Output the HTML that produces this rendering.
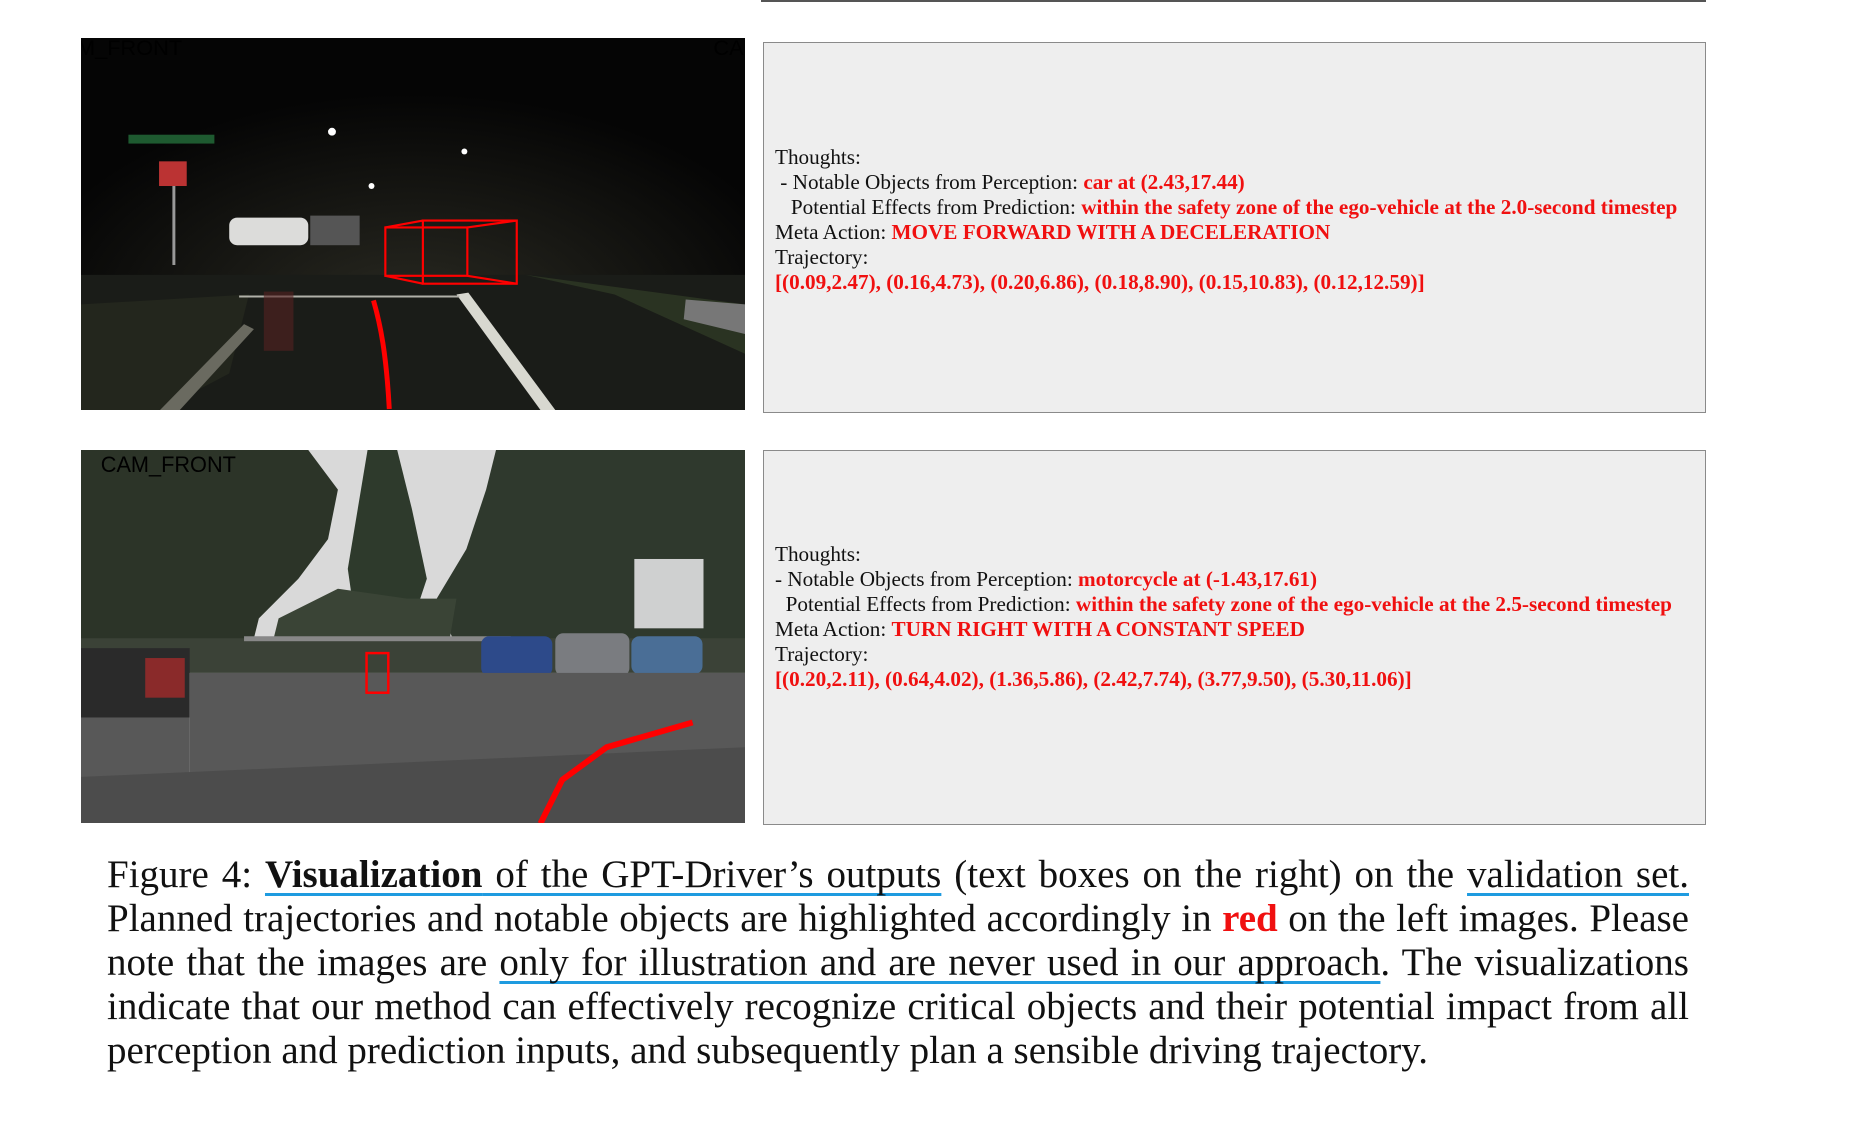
<!DOCTYPE html>
<html><head><meta charset="utf-8"><style>
body{margin:0;width:1861px;height:1123px;background:#fff;position:relative;overflow:hidden;font-family:"Liberation Serif",serif}
.abs{position:absolute}
.box{position:absolute;left:763px;width:943px;background:#eeeeee;border:1.5px solid #8a8a8a;box-sizing:border-box}
.tl{position:absolute;left:11px;font-size:21.2px;line-height:25px;white-space:nowrap;color:#111}
.r{color:#f01010;font-weight:bold}
.cap{position:absolute;left:107px;width:1582px;font-size:39px;line-height:44px;color:#111}
.cap div{text-align:justify;text-align-last:justify;white-space:nowrap;height:44px}
.cap div.last{text-align-last:left}
.u{text-decoration:underline;text-decoration-color:#1e9be0;text-decoration-thickness:3px;text-underline-offset:6px;text-decoration-skip-ink:none}
</style></head><body>
<div class="abs" style="left:761px;top:0;width:945px;height:1.5px;background:#555"></div>

<svg class="abs" style="left:81px;top:38px" width="664" height="372" viewBox="0 0 672 377" preserveAspectRatio="none">
<defs><radialGradient id="g1" cx="0.5" cy="0.75" r="0.6"><stop offset="0" stop-color="#2a2a22"/><stop offset="1" stop-color="#050505"/></radialGradient></defs>
<rect width="672" height="377" fill="url(#g1)"/>
<polygon points="0,240 672,240 672,377 0,377" fill="#1a1c18"/>
<polygon points="0,270 170,260 150,340 80,377 0,377" fill="#23261d"/>
<polygon points="450,240 672,270 672,320 540,260" fill="#2a3322"/>
<polygon points="80,377 165,290 175,295 100,377" fill="#6a6a60"/>
<polygon points="380,260 392,258 480,377 465,377" fill="#d8d8d0"/>
<line x1="160" y1="262" x2="383" y2="262" stroke="#b0b0a8" stroke-width="2"/>
<rect x="150" y="182" width="80" height="28" rx="8" fill="#dcdcda"/>
<rect x="232" y="180" width="50" height="30" fill="#555"/>
<circle cx="254" cy="95" r="4" fill="#fff"/><circle cx="388" cy="115" r="3" fill="#fff"/><circle cx="294" cy="150" r="3" fill="#fff"/>
<rect x="48" y="98" width="87" height="9" fill="#1e5a30"/>
<rect x="79" y="125" width="28" height="25" fill="#b33"/>
<line x1="94" y1="150" x2="94" y2="230" stroke="#999" stroke-width="3"/>
<rect x="185" y="257" width="30" height="60" fill="#552222" opacity="0.6"/>
<polygon points="612,265 672,270 672,300 610,285" fill="#777"/>
<g fill="none" stroke="#f00" stroke-width="2.2"><rect x="308" y="192" width="83" height="49"/><rect x="346" y="185" width="95" height="64"/><line x1="308" y1="192" x2="346" y2="185"/><line x1="391" y1="192" x2="441" y2="185"/><line x1="308" y1="241" x2="346" y2="249"/><line x1="391" y1="241" x2="441" y2="249"/></g>
<path d="M296,266 C303,290 309,320 312,376" stroke="#f00" stroke-width="5" fill="none"/>
<text x="-4" y="17" font-family="Liberation Sans" font-size="22" fill="#000">M_FRONT</text>
<text x="640" y="17" font-family="Liberation Sans" font-size="22" fill="#000">CA</text>
</svg>

<svg class="abs" style="left:81px;top:449.5px" width="664" height="373.5" viewBox="0 0 672 377" preserveAspectRatio="none">
<rect width="672" height="377" fill="#d9d9d9"/>
<polygon points="0,0 230,0 260,40 250,90 220,130 180,170 170,210 0,210" fill="#2c3428"/>
<polygon points="290,0 320,0 335,60 350,130 330,190 280,190 270,120 280,60" fill="#2e3a2c"/>
<polygon points="420,0 672,0 672,200 380,200 360,150 390,100 410,40" fill="#2f392d"/>
<polygon points="200,170 260,140 330,150 380,150 370,210 190,210" fill="#3a4436"/>
<rect x="560" y="110" width="70" height="70" fill="#cfd0d0"/>
<rect x="0" y="190" width="672" height="35" fill="#3b4237"/>
<rect x="165" y="188" width="270" height="5" fill="#888"/>
<rect x="405" y="188" width="72" height="40" rx="8" fill="#2d4a8a"/>
<rect x="480" y="185" width="75" height="43" rx="8" fill="#7a7c80"/>
<rect x="557" y="188" width="72" height="38" rx="8" fill="#4a6e96"/>
<rect x="0" y="200" width="110" height="70" fill="#2a2a2a"/>
<rect x="65" y="210" width="40" height="40" fill="#8a2a2a"/>
<rect x="110" y="225" width="562" height="152" fill="#585858"/>
<rect x="0" y="270" width="110" height="107" fill="#585858"/>
<polygon points="0,330 672,300 672,377 0,377" fill="#4c4c4c"/>
<rect x="289" y="205" width="22" height="40" fill="none" stroke="#f00" stroke-width="2.5"/>
<polyline points="465,377 487,333 532,300 619,275" stroke="#f00" stroke-width="6" fill="none"/>
<text x="20" y="22" font-family="Liberation Sans" font-size="22" fill="#000">CAM_FRONT</text>
</svg>

<div class="box" style="top:41.5px;height:371.5px">
<div class="tl" style="top:102px">Thoughts:</div>
<div class="tl" style="top:127px">&nbsp;- Notable Objects from Perception: <span class="r">car at (2.43,17.44)</span></div>
<div class="tl" style="top:152px">&nbsp;&nbsp;&nbsp;Potential Effects from Prediction: <span class="r">within the safety zone of the ego-vehicle at the 2.0-second timestep</span></div>
<div class="tl" style="top:177px">Meta Action: <span class="r">MOVE FORWARD WITH A DECELERATION</span></div>
<div class="tl" style="top:202px">Trajectory:</div>
<div class="tl" style="top:227px"><span class="r">[(0.09,2.47), (0.16,4.73), (0.20,6.86), (0.18,8.90), (0.15,10.83), (0.12,12.59)]</span></div>
</div>

<div class="box" style="top:449.5px;height:375px">
<div class="tl" style="top:91px">Thoughts:</div>
<div class="tl" style="top:116px">- Notable Objects from Perception: <span class="r">motorcycle at (-1.43,17.61)</span></div>
<div class="tl" style="top:141px">&nbsp;&nbsp;Potential Effects from Prediction: <span class="r">within the safety zone of the ego-vehicle at the 2.5-second timestep</span></div>
<div class="tl" style="top:166px">Meta Action: <span class="r">TURN RIGHT WITH A CONSTANT SPEED</span></div>
<div class="tl" style="top:191px">Trajectory:</div>
<div class="tl" style="top:216px"><span class="r">[(0.20,2.11), (0.64,4.02), (1.36,5.86), (2.42,7.74), (3.77,9.50), (5.30,11.06)]</span></div>
</div>

<div class="cap" style="top:853px">
<div>Figure 4: <span class="u"><b>Visualization</b> of the GPT-Driver’s outputs</span> (text boxes on the right) on the <span class="u">validation set.</span></div>
<div>Planned trajectories and notable objects are highlighted accordingly in <b style="color:#f01010">red</b> on the left images. Please</div>
<div>note that the images are <span class="u">only for illustration and are never used in our approach</span>. The visualizations</div>
<div>indicate that our method can effectively recognize critical objects and their potential impact from all</div>
<div class="last">perception and prediction inputs, and subsequently plan a sensible driving trajectory.</div>
</div>
</body></html>
